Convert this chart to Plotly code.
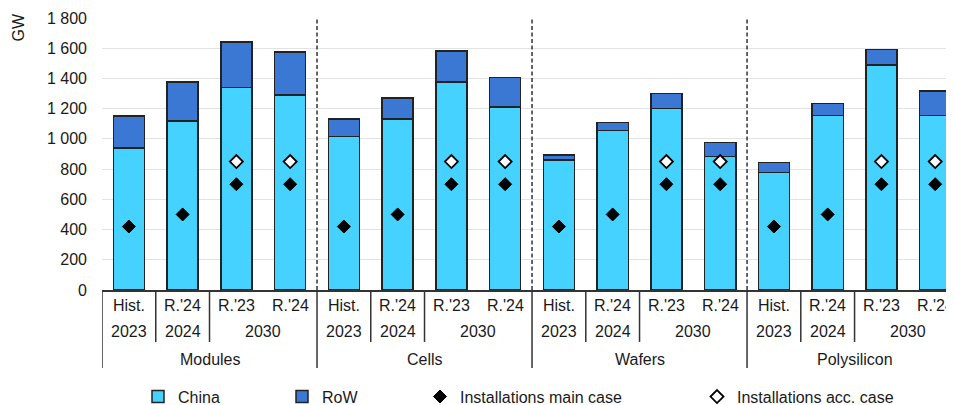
import plotly.graph_objects as go

# ---- data ----
groups = ["Modules", "Cells", "Wafers", "Polysilicon"]
versions = ["Hist.", "R.'24", "R.'23", "R.'24"]
years = ["2023", "2024", "2030"]
year_span = [[0], [1], [2, 3]]  # which version slots each year covers

china = [940, 1120, 1340, 1290,
         1015, 1132, 1375, 1210,
         860, 1055, 1202, 882,
         776, 1156, 1490, 1155]
total = [1150, 1375, 1640, 1575,
         1130, 1270, 1582, 1405,
         893, 1110, 1302, 975,
         845, 1233, 1593, 1317]
row = [t - c for t, c in zip(total, china)]

inst_main = [420, 500, 700, 700] * 4
inst_acc = [None, None, 850, 850] * 4

y_tickvals = [0, 200, 400, 600, 800, 1000, 1200, 1400, 1600, 1800]
y_ticktext = ["0", "200", "400", "600", "800", "1 000", "1 200", "1 400", "1 600", "1 800"]

# ---- style ----
FONT = "Liberation Sans, Arial, sans-serif"
TXT = "#1a1a1a"
FS = 16
CYAN = "#45D2FF"
BLUE = "#3B78D4"
EDGE = "#222222"

n = len(china)
xs = list(range(n))

fig = go.Figure()
fig.add_trace(go.Bar(x=xs, y=china, width=0.58, name="China",
                     marker=dict(color=CYAN, line=dict(color=EDGE, width=1.5)),
                     legend="legend"))
fig.add_trace(go.Bar(x=xs, y=row, width=0.58, name="RoW",
                     marker=dict(color=BLUE, line=dict(color=EDGE, width=1.5)),
                     legend="legend2"))
fig.add_trace(go.Scatter(x=xs, y=inst_main, mode="markers", name="Installations main case",
                         marker=dict(symbol="diamond", size=10, color="black",
                                     line=dict(color="black", width=1)),
                         legend="legend3"))
fig.add_trace(go.Scatter(x=xs, y=inst_acc, mode="markers", name="Installations acc. case",
                         marker=dict(symbol="diamond", size=10, color="white",
                                     line=dict(color="black", width=1.8)),
                         legend="legend4"))

# ---- category table under the axis ----
ann = []
shapes = []
ROW1, ROW2, ROW3 = -0.0588, -0.153, -0.254
for i in range(n):
    ann.append(dict(x=i, y=ROW1, xref="x", yref="paper", text=versions[i % 4],
                    showarrow=False, yanchor="middle", xanchor="center"))
for g, gname in enumerate(groups):
    base = g * 4
    for yi, yr in enumerate(years):
        cx = base + sum(year_span[yi]) / len(year_span[yi])
        ann.append(dict(x=cx, y=ROW2, xref="x", yref="paper", text=yr,
                        showarrow=False, yanchor="middle", xanchor="center"))
    ann.append(dict(x=base + 1.5, y=ROW3, xref="x", yref="paper", text=gname,
                    showarrow=False, yanchor="middle", xanchor="center"))
    # group boundary (left)
    shapes.append(dict(type="line", xref="x", yref="paper", x0=base - 0.5, x1=base - 0.5,
                       y0=0, y1=-0.287, line=dict(color="#333333", width=1.5)))
    if g > 0:
        shapes.append(dict(type="line", xref="x", yref="paper", x0=base - 0.5, x1=base - 0.5,
                           y0=0, y1=1, line=dict(color="#333333", width=1.5, dash="4px,2.5px")))
    for k in (0.5, 1.5):
        shapes.append(dict(type="line", xref="x", yref="paper", x0=base + k, x1=base + k,
                           y0=0, y1=-0.191, line=dict(color="#333333", width=1.5)))

ann.append(dict(x=-0.098, y=0.963, xref="paper", yref="paper", text="GW", textangle=-90,
                showarrow=False, xanchor="center", yanchor="middle"))

# page body has an 8px margin, so figure coords = screen coords - 8
PLOT_L = 102  # screen px
PLOT_W = 852


def lx(px):
    return (px - PLOT_L) / PLOT_W


leg_common = dict(orientation="h", yanchor="middle", y=-0.392, xanchor="left",
                  bgcolor="rgba(0,0,0,0)", font=dict(family=FONT, size=FS, color=TXT),
                  itemwidth=30)

fig.update_layout(
    barmode="stack",
    width=954, height=405,
    margin=dict(l=94, r=8, t=10, b=123, autoexpand=False),
    paper_bgcolor="white", plot_bgcolor="white",
    font=dict(family=FONT, size=FS, color=TXT),
    showlegend=True,
    legend=dict(x=lx(178 - 40), **leg_common),
    legend2=dict(x=lx(322 - 40), **leg_common),
    legend3=dict(x=lx(460 - 40), **leg_common),
    legend4=dict(x=lx(737 - 40), **leg_common),
    annotations=ann,
    shapes=shapes,
    xaxis=dict(range=[-0.5, 15.35], showticklabels=False, ticks="", showgrid=False,
               zeroline=False, showline=True, linecolor="#333333", linewidth=1.5,
               fixedrange=True, automargin=False),
    yaxis=dict(range=[0, 1800], tickvals=y_tickvals, ticktext=y_ticktext,
               showgrid=True, gridcolor="#e3e3e3", gridwidth=1.2, zeroline=False,
               showline=False, ticks="", ticklabelstandoff=14, automargin=False,
               tickfont=dict(family=FONT, size=FS, color=TXT)),
)

fig.write_html("out.html")
